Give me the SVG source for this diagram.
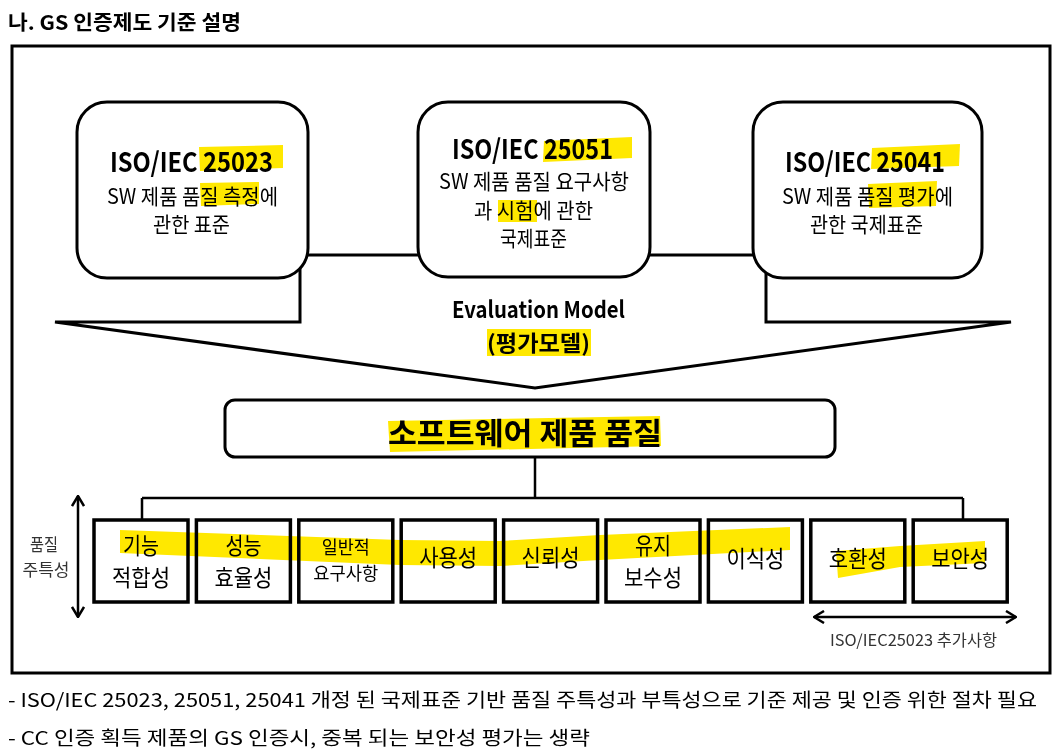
<svg xmlns="http://www.w3.org/2000/svg" width="1059" height="752" viewBox="0 0 1059 752">
<defs>
<style>
text{font-family:"Noto Sans CJK KR","Liberation Sans",sans-serif;fill:#000}
.b{font-weight:bold}
.box{fill:#fff;stroke:#000;stroke-width:3}
.sq{fill:#fff;stroke:#000;stroke-width:3.5}
.ln{fill:none;stroke:#000;stroke-width:2.5}
.hl{fill:#FFE800;mix-blend-mode:multiply}
.m{text-anchor:middle}
.g{fill:#333}
</style>
<marker id="chev" viewBox="0 0 12 14" refX="11" refY="7" markerWidth="12" markerHeight="14" markerUnits="userSpaceOnUse" orient="auto-start-reverse">
<path d="M1,1 L11,7 L1,13" fill="none" stroke="#000" stroke-width="2.5"/>
</marker>
</defs>
<rect width="1059" height="752" fill="#fff"/>
<text id="title" class="b" x="8" y="30" font-size="20" textLength="233" lengthAdjust="spacingAndGlyphs">나. GS 인증제도 기준 설명</text>
<rect id="frame" x="12" y="46" width="1038" height="627" fill="none" stroke="#000" stroke-width="3"/>
<g id="evaluation-model">
<path d="M55,322 L300,322 L300,255 L766,255 L766,322 L1011,322 L535,388 Z" fill="#fff" stroke="#000" stroke-width="3" stroke-linejoin="miter"/>
<text class="b" x="452" y="318" font-size="23" textLength="173" lengthAdjust="spacingAndGlyphs">Evaluation Model</text>
<text class="b" x="487" y="351" font-size="22" textLength="103" lengthAdjust="spacingAndGlyphs">(평가모델)</text>
</g>
<g id="iso25023">
<rect class="box" x="77" y="102" width="231" height="176" rx="30"/>
<text class="b" x="110" y="172" font-size="27" textLength="163" lengthAdjust="spacingAndGlyphs">ISO/IEC 25023</text>
<text x="107" y="204" font-size="21" textLength="171" lengthAdjust="spacingAndGlyphs">SW 제품 품질 측정에</text>
<text x="153" y="232" font-size="21" textLength="77" lengthAdjust="spacingAndGlyphs">관한 표준</text>
</g>
<g id="iso25051">
<rect class="box" x="418" y="102" width="232" height="175" rx="30"/>
<text class="b" x="452" y="159" font-size="27" textLength="161" lengthAdjust="spacingAndGlyphs">ISO/IEC 25051</text>
<text x="439" y="189" font-size="21" textLength="190" lengthAdjust="spacingAndGlyphs">SW 제품 품질 요구사항</text>
<text x="474" y="218" font-size="21" textLength="119" lengthAdjust="spacingAndGlyphs">과 시험에 관한</text>
<text x="500" y="246" font-size="21" textLength="67" lengthAdjust="spacingAndGlyphs">국제표준</text>
</g>
<g id="iso25041">
<rect class="box" x="753" y="102" width="229" height="176" rx="30"/>
<text class="b" x="785" y="172" font-size="27" textLength="160" lengthAdjust="spacingAndGlyphs">ISO/IEC 25041</text>
<text x="782" y="204" font-size="21" textLength="171" lengthAdjust="spacingAndGlyphs">SW 제품 품질 평가에</text>
<text x="810" y="232" font-size="21" textLength="113" lengthAdjust="spacingAndGlyphs">관한 국제표준</text>
</g>
<g id="sw-quality">
<rect x="225" y="400" width="610" height="57" rx="10" fill="#fff" stroke="#000" stroke-width="3"/>
<text class="b" x="388" y="444" font-size="30" textLength="274" lengthAdjust="spacingAndGlyphs">소프트웨어 제품 품질</text>
</g>
<g id="connectors">
<path class="ln" d="M535,457 V498 M142,498 H963 M142,498 V520 M963,498 V520"/>
<line class="ln" x1="78" y1="496" x2="78" y2="617" marker-start="url(#chev)" marker-end="url(#chev)"/>
<line class="ln" x1="814" y1="617" x2="1016" y2="617" marker-start="url(#chev)" marker-end="url(#chev)"/>
</g>
<g id="c1"><rect class="sq" x="94" y="520" width="94" height="82"/>
<text class="m" x="141" y="554" font-size="23" textLength="36" lengthAdjust="spacingAndGlyphs">기능</text>
<text class="m" x="141" y="586" font-size="23" textLength="58" lengthAdjust="spacingAndGlyphs">적합성</text></g>
<g id="c2"><rect class="sq" x="196.4" y="520" width="94" height="82"/>
<text class="m" x="243.4" y="554" font-size="23" textLength="36" lengthAdjust="spacingAndGlyphs">성능</text>
<text class="m" x="243.4" y="586" font-size="23" textLength="58" lengthAdjust="spacingAndGlyphs">효율성</text></g>
<g id="c3"><rect class="sq" x="298.8" y="520" width="94" height="82"/>
<text class="m" x="345.8" y="554" font-size="18" textLength="48" lengthAdjust="spacingAndGlyphs">일반적</text>
<text class="m" x="345.8" y="580" font-size="18" textLength="65" lengthAdjust="spacingAndGlyphs">요구사항</text></g>
<g id="c4"><rect class="sq" x="401.2" y="520" width="94" height="82"/>
<text class="m" x="448.2" y="566" font-size="23" textLength="58" lengthAdjust="spacingAndGlyphs">사용성</text></g>
<g id="c5"><rect class="sq" x="503.6" y="520" width="94" height="82"/>
<text class="m" x="550.6" y="566" font-size="23" textLength="58" lengthAdjust="spacingAndGlyphs">신뢰성</text></g>
<g id="c6"><rect class="sq" x="606" y="520" width="94" height="82"/>
<text class="m" x="653" y="554" font-size="23" textLength="36" lengthAdjust="spacingAndGlyphs">유지</text>
<text class="m" x="653" y="586" font-size="23" textLength="58" lengthAdjust="spacingAndGlyphs">보수성</text></g>
<g id="c7"><rect class="sq" x="708.4" y="520" width="94" height="82"/>
<text class="m" x="755.4" y="567" font-size="23" textLength="58" lengthAdjust="spacingAndGlyphs">이식성</text></g>
<g id="c8"><rect class="sq" x="810.8" y="520" width="94" height="82"/>
<text class="m" x="857.8" y="567" font-size="23" textLength="58" lengthAdjust="spacingAndGlyphs">호환성</text></g>
<g id="c9"><rect class="sq" x="913.2" y="520" width="94" height="82"/>
<text class="m" x="960.2" y="567" font-size="23" textLength="58" lengthAdjust="spacingAndGlyphs">보안성</text></g>
<g id="side-label">
<text class="m g" x="44" y="551" font-size="17" textLength="28" lengthAdjust="spacingAndGlyphs">품질</text>
<text class="m g" x="46" y="576" font-size="17" textLength="47" lengthAdjust="spacingAndGlyphs">주특성</text>
</g>
<text id="added" class="g" x="830" y="646" font-size="16" textLength="167" lengthAdjust="spacingAndGlyphs">ISO/IEC25023 추가사항</text>
<g id="highlights">
<polygon class="hl" points="199,147 283,145 283,168 200,171"/>
<polygon class="hl" points="200,183 259,182 259,204 201,206"/>
<polygon class="hl" points="544,141 632,137 632,158 543,162"/>
<rect class="hl" x="498" y="200" width="39" height="22"/>
<polygon class="hl" points="872,148 960,144 959,166 871,169"/>
<polygon class="hl" points="868,184 937,181 936,206 869,208"/>
<rect class="hl" x="487" y="329" width="104" height="27"/>
<polygon class="hl" points="388,421 660,416 661,446 390,452"/>
<polygon class="hl" points="120,530 400,540 500,541 600,535 790,527 790,550 600,560 500,566 400,565 120,553"/>
<polygon class="hl" points="836,551 900,546 985,541 985,563 900,567 838,578"/>
</g>
<text id="note1" x="8" y="707" font-size="19" textLength="1029" lengthAdjust="spacingAndGlyphs">- ISO/IEC 25023, 25051, 25041 개정 된 국제표준 기반 품질 주특성과 부특성으로 기준 제공 및 인증 위한 절차 필요</text>
<text id="note2" x="8" y="745" font-size="19" textLength="582" lengthAdjust="spacingAndGlyphs">- CC 인증 획득 제품의 GS 인증시, 중복 되는 보안성 평가는 생략</text>
</svg>
